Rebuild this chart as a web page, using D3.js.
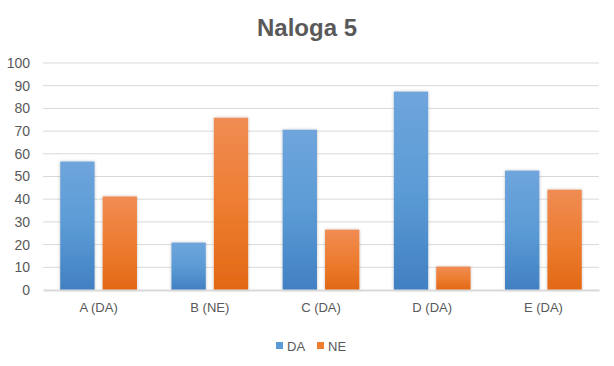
<!DOCTYPE html>
<html>
<head>
<meta charset="utf-8">
<script src="https://cdn.jsdelivr.net/npm/d3@7"></script>
<style>
  body { margin: 0; background: #fff; }
  text { font-family: "Liberation Sans", "DejaVu Sans", sans-serif; }
</style>
</head>
<body>
<div id="chart"></div>
<script>
const categories = ["A (DA)", "B (NE)", "C (DA)", "D (DA)", "E (DA)"];
const seriesNames = ["DA", "NE"];
const daValues = [56.6, 20.9, 70.6, 87.4, 52.6];
const neValues = [41.2, 75.9, 26.6, 10.3, 44.2];
const yTicks = [0, 10, 20, 30, 40, 50, 60, 70, 80, 90, 100];

const svgWidth = 614,
    svgHeight = 366,
    margin = { top: 63, right: 15, bottom: 76, left: 43 },
    width = svgWidth - margin.left - margin.right,
    height = svgHeight - margin.top - margin.bottom;

const colors = {
    DA: ["#6fa5dc", "#5b9bd5", "#4180c2"],
    NE: ["#f08c54", "#ed7d31", "#e26815"]
};

let svg = d3.select("#chart").append("svg")
    .attr("width", svgWidth)
    .attr("height", svgHeight);

// gradients + soft shadow for the bars
let defs = svg.append("defs");
seriesNames.forEach(s => {
    let g = defs.append("linearGradient")
        .attr("id", "grad-" + s)
        .attr("x1", 0).attr("y1", 0).attr("x2", 0).attr("y2", 1);
    g.append("stop").attr("offset", "0%").attr("stop-color", colors[s][0]);
    g.append("stop").attr("offset", "50%").attr("stop-color", colors[s][1]);
    g.append("stop").attr("offset", "100%").attr("stop-color", colors[s][2]);
});
let shadow = defs.append("filter").attr("id", "shadow")
    .attr("x", "-20%").attr("y", "-5%").attr("width", "140%").attr("height", "110%");
shadow.append("feDropShadow")
    .attr("dx", 0).attr("dy", 0).attr("stdDeviation", 1.5)
    .attr("flood-color", "#000").attr("flood-opacity", 0.25);

let container = svg.append("g")
    .attr("transform", `translate(${margin.left},${margin.top})`);

// scales
let x0 = d3.scaleBand()
    .domain(categories)
    .range([0, width])
    .paddingInner(0.31)
    .paddingOuter(0.155);
let x1 = d3.scaleBand()
    .domain(seriesNames)
    .range([0, x0.bandwidth()])
    .paddingInner(0.19);
let y = d3.scaleLinear()
    .domain([0, 100])
    .range([height, 0]);

// gridlines
container.append("g")
    .selectAll("line")
    .data(yTicks.filter(d => d > 0))
    .join("line")
    .attr("x1", 0)
    .attr("x2", width)
    .attr("y1", d => y(d))
    .attr("y2", d => y(d))
    .attr("stroke", "#d9d9d9")
    .attr("stroke-width", 1);

// y axis labels
let yAxis = container.append("g")
    .call(d3.axisLeft(y).tickValues(yTicks).tickSize(0).tickPadding(13));
yAxis.select(".domain").remove();
yAxis.selectAll("text")
    .attr("fill", "#595959")
    .style("font-size", "14px");

// bars
let rows = categories.map((c, i) => ({ cat: c, values: [
    { key: "DA", value: daValues[i] },
    { key: "NE", value: neValues[i] }
]}));

container.append("g")
    .selectAll("g")
    .data(rows)
    .join("g")
    .attr("transform", d => `translate(${x0(d.cat)},0)`)
    .selectAll("rect")
    .data(d => d.values)
    .join("rect")
    .attr("x", d => x1(d.key))
    .attr("y", d => y(d.value))
    .attr("width", x1.bandwidth())
    .attr("height", d => height - y(d.value))
    .attr("fill", d => `url(#grad-${d.key})`)
    .attr("filter", "url(#shadow)");

// x axis
let xAxis = container.append("g")
    .attr("transform", `translate(0,${height})`)
    .call(d3.axisBottom(x0).tickSize(0).tickPadding(13));
xAxis.select(".domain")
    .attr("stroke", "#d9d9d9")
    .attr("stroke-width", 2);
xAxis.selectAll("text")
    .attr("fill", "#595959")
    .style("font-size", "13px");

// title
svg.append("text")
    .attr("x", svgWidth / 2)
    .attr("y", 36)
    .attr("text-anchor", "middle")
    .attr("fill", "#595959")
    .style("font-size", "24px")
    .style("font-weight", "bold")
    .text("Naloga 5");

// legend
let legend = svg.append("g")
    .attr("transform", "translate(276,346)");
let items = legend.selectAll("g")
    .data(seriesNames)
    .join("g")
    .attr("transform", (d, i) => `translate(${i * 41},0)`);
items.append("rect")
    .attr("x", 0)
    .attr("y", -4)
    .attr("width", 7)
    .attr("height", 7)
    .attr("fill", d => colors[d][1]);
items.append("text")
    .attr("x", 11)
    .attr("y", 4.5)
    .attr("fill", "#595959")
    .style("font-size", "13px")
    .text(d => d);
</script>
</body>
</html>
